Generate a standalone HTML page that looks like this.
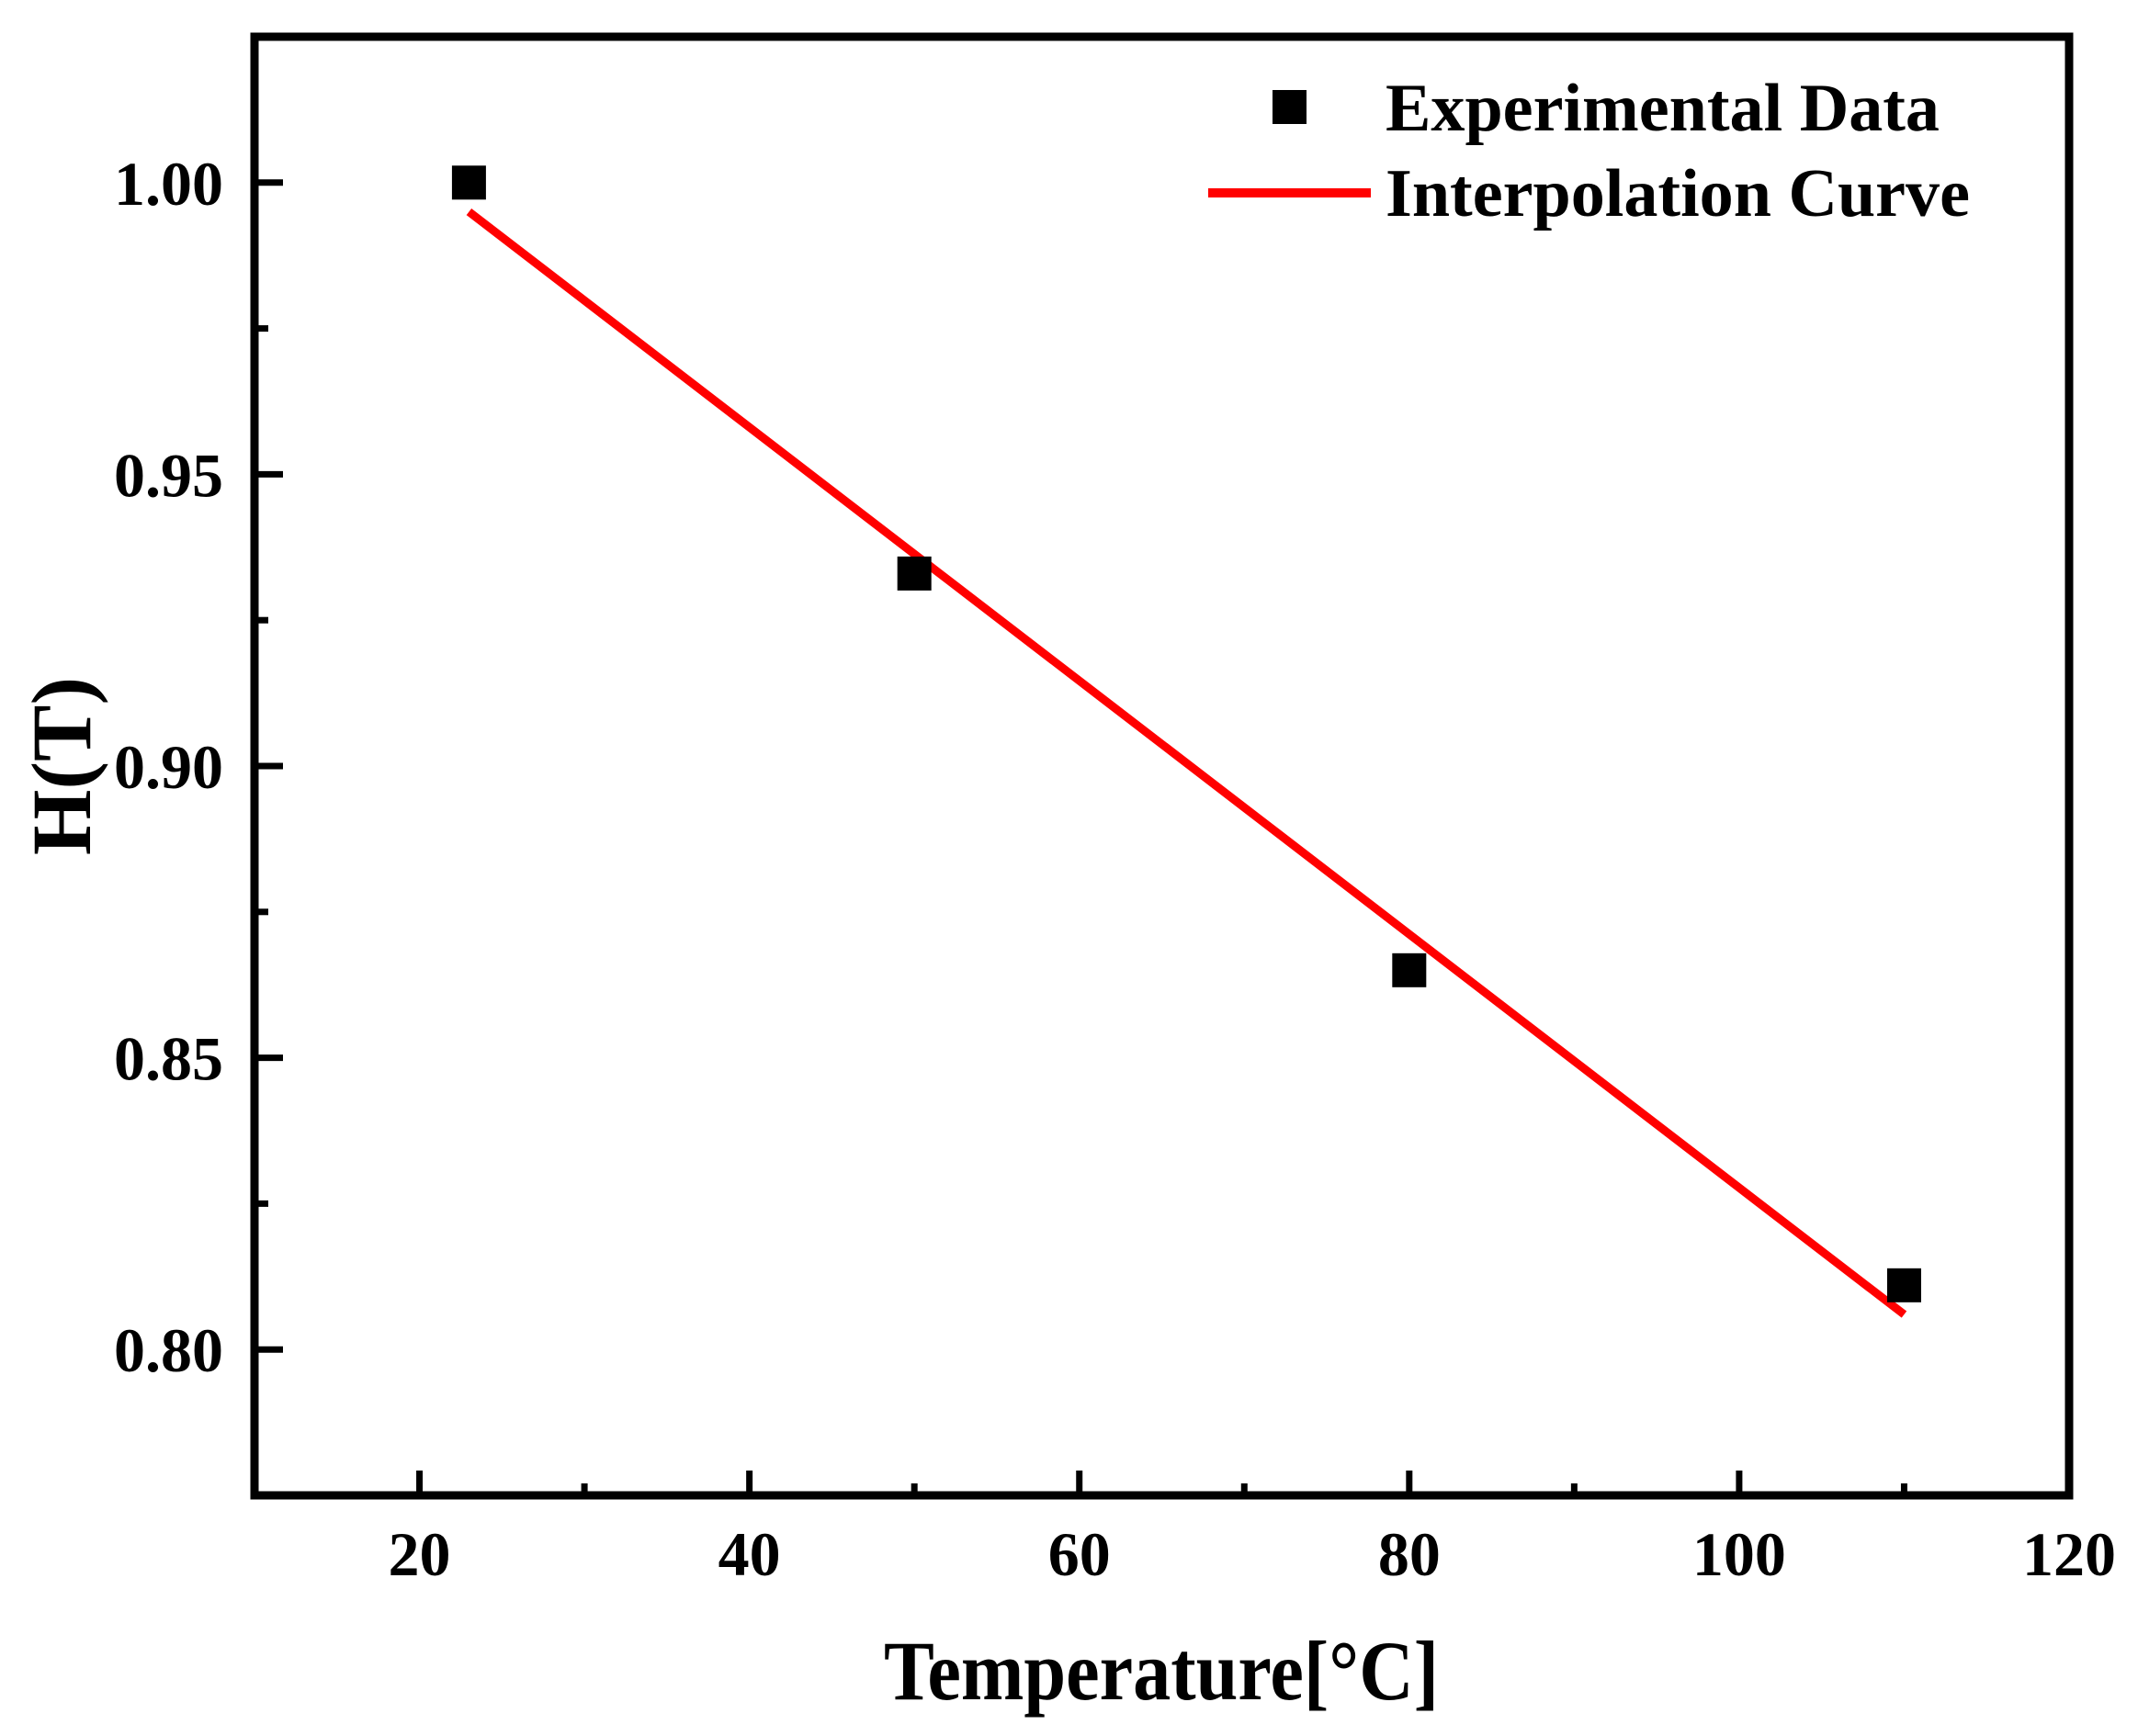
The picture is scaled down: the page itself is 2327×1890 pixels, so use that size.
<!DOCTYPE html>
<html><head><meta charset="utf-8"><style>
html,body{margin:0;padding:0;background:#fff;}
svg{display:block;}
text{font-family:"Liberation Serif",serif;font-weight:bold;fill:#000;}
</style></head><body>
<svg id="chart" width="2327" height="1890" viewBox="0 0 2327 1890" xmlns="http://www.w3.org/2000/svg">
<g id="ticks"></g>
<g id="marks"></g>
<rect x="277" y="40" width="1975" height="1588" fill="none" stroke="#000" stroke-width="9"/>
<g>
<rect x="1385" y="98" width="37" height="37" fill="#000"/>
<text x="1508" y="142" font-size="74" textLength="603" lengthAdjust="spacingAndGlyphs">Experimental Data</text>
<line x1="1315" y1="210" x2="1492" y2="210" stroke="#ff0000" stroke-width="10"/>
<text x="1508" y="235" font-size="74" textLength="636" lengthAdjust="spacingAndGlyphs">Interpolation Curve</text>
</g>
<text x="1264" y="1850" font-size="92" text-anchor="middle" textLength="604" lengthAdjust="spacingAndGlyphs">Temperature[°C]</text>
<text x="0" y="0" font-size="92" text-anchor="middle" transform="translate(98,834) rotate(-90)">H(T)</text>
</svg>
<script>
const xTicks = [20, 40, 60, 80, 100, 120];
const xMinor = [30, 50, 70, 90, 110];
const yTicks = [0.80, 0.85, 0.90, 0.95, 1.00];
const yMinor = [0.825, 0.875, 0.925, 0.975, 1.025];
const tempC = [23, 50, 80, 110];
const hValues = [1.000, 0.933, 0.865, 0.811];
const fitX = [23, 110];
const fitY = [0.995, 0.806];

const L=277, R=2252, T=40, B=1628;
const xMin=10, xMax=120, yMin=0.775, yMax=1.025;
const sx = v => L + (v - xMin) / (xMax - xMin) * (R - L);
const sy = v => B - (v - yMin) / (yMax - yMin) * (B - T);
const NS = "http://www.w3.org/2000/svg";
const ticksG = document.getElementById('ticks');
const marksG = document.getElementById('marks');
function mk(tag, attrs, parent) {
  const e = document.createElementNS(NS, tag);
  for (const k in attrs) e.setAttribute(k, attrs[k]);
  parent.appendChild(e);
  return e;
}
xTicks.forEach(v => {
  const x = sx(v);
  const t = mk('line', {x1:x, y1:B, x2:x, y2:B-27, stroke:'#000', 'stroke-width':7}, ticksG);
  
  
  const lb = mk('text', {x:x, y:1715, 'font-size':68, 'text-anchor':'middle'}, ticksG);
  lb.textContent = String(v);
  
  
});
xMinor.forEach(v => {
  const x = sx(v);
  const t = mk('line', {x1:x, y1:B, x2:x, y2:B-13, stroke:'#000', 'stroke-width':7}, ticksG);
  
  
});
yTicks.forEach(v => {
  const y = sy(v);
  const t = mk('line', {x1:L, y1:y, x2:L+31, y2:y, stroke:'#000', 'stroke-width':7}, ticksG);
  
  
  const lb = mk('text', {x:243, y:y+24, 'font-size':68, 'text-anchor':'end'}, ticksG);
  lb.textContent = v.toFixed(2);
  
  
});
yMinor.forEach(v => {
  const y = sy(v);
  const t = mk('line', {x1:L, y1:y, x2:L+15, y2:y, stroke:'#000', 'stroke-width':7}, ticksG);
  
  
});
const fit = mk('line', {x1:sx(fitX[0]), y1:sy(fitY[0]), x2:sx(fitX[1]), y2:sy(fitY[1]), stroke:'#ff0000', 'stroke-width':9}, marksG);


tempC.forEach((t, i) => {
  const s = 37;
  const r = mk('rect', {x:sx(t)-s/2, y:sy(hValues[i])-s/2, width:s, height:s, fill:'#000'}, marksG);
  
  
});
</script>
</body></html>
